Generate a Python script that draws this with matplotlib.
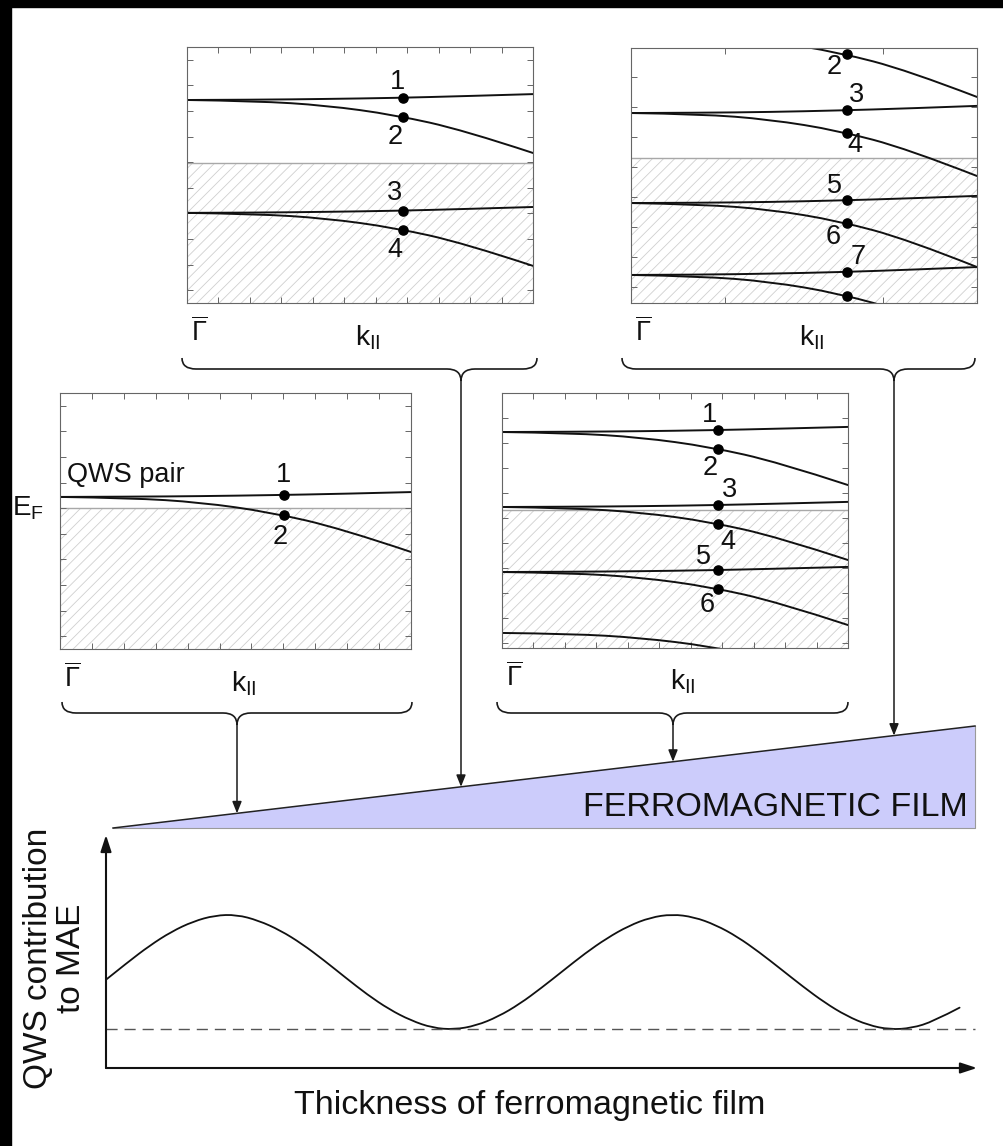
import numpy as np
import matplotlib
matplotlib.use("Agg")
import matplotlib.pyplot as plt
from matplotlib.path import Path
from matplotlib.patches import PathPatch, Polygon, Rectangle
from matplotlib.transforms import blended_transform_factory

plt.rcParams["font.family"] = ["Liberation Sans", "DejaVu Sans"]
plt.rcParams["mathtext.fontset"] = "custom"
plt.rcParams["mathtext.rm"] = "Liberation Sans"
plt.rcParams["mathtext.it"] = "Liberation Sans:italic"
plt.rcParams["mathtext.bf"] = "Liberation Sans:bold"
plt.rcParams["mathtext.sf"] = "Liberation Sans"
plt.rcParams["hatch.linewidth"] = 0.6

# ---------------------------------------------------------------- data
# k grid (fraction of the way from Gamma-bar to the panel edge)
K = [0.0, 0.2, 0.4, 0.6, 0.8, 1.0]

# film 1 (thinnest): one QWS pair straddling E_F
F1_EF = 5.51
F1_BANDS = [
    [5.94, 5.95, 5.97, 6.01, 6.06, 6.13],
    [5.94, 5.90, 5.73, 5.34, 4.71, 3.79],
]
F1_DOT_K = 0.638
F1_DOT_E = [6.01, 5.22]
F1_DOT_LABELS = ["1", "2"]

# film 2
F2_EF = 5.47
F2_BANDS = [
    [7.93, 7.94, 7.97, 8.01, 8.08, 8.16],
    [7.93, 7.89, 7.72, 7.35, 6.75, 5.86],
    [3.52, 3.53, 3.56, 3.60, 3.67, 3.75],
    [3.52, 3.48, 3.31, 2.94, 2.34, 1.45],
]
F2_DOT_K = 0.624
F2_DOT_E = [8.02, 7.28, 3.61, 2.87]
F2_DOT_LABELS = ["1", "2", "3", "4"]

# film 3
F3_EF = 5.41
F3_BANDS = [
    [8.47, 8.48, 8.50, 8.54, 8.60, 8.67],
    [8.47, 8.43, 8.26, 7.89, 7.28, 6.39],
    [5.53, 5.54, 5.56, 5.60, 5.66, 5.73],
    [5.53, 5.49, 5.32, 4.95, 4.34, 3.45],
    [2.98, 2.99, 3.01, 3.05, 3.11, 3.18],
    [2.98, 2.94, 2.77, 2.40, 1.79, 0.90],
    [0.59, 0.56, 0.40, 0.07, -0.48, -1.28],
]
F3_DOT_K = 0.624
F3_DOT_E = [8.55, 7.82, 5.61, 4.88, 3.06, 2.33]
F3_DOT_LABELS = ["1", "2", "3", "4", "5", "6"]

# film 4 (thickest)
F4_EF = 5.69
F4_BANDS = [
    [10.51, 10.47, 10.27, 9.83, 9.12, 8.08],
    [7.45, 7.46, 7.49, 7.55, 7.63, 7.73],
    [7.45, 7.41, 7.20, 6.76, 6.04, 4.98],
    [3.92, 3.93, 3.96, 4.02, 4.10, 4.20],
    [3.92, 3.87, 3.67, 3.22, 2.49, 1.41],
    [1.10, 1.11, 1.15, 1.21, 1.30, 1.41],
    [1.10, 1.05, 0.84, 0.38, -0.37, -1.48],
]
F4_DOT_K = 0.624
F4_DOT_E = [9.75, 7.56, 6.67, 4.03, 3.13, 1.22, 0.29]
F4_DOT_LABELS = ["2", "3", "4", "5", "6", "7", ""]

# QWS contribution to the MAE versus film thickness
THICKNESS = [0.00, 0.25, 0.50, 0.75, 1.00, 1.25, 1.50, 1.75, 2.00, 2.25,
             2.50, 2.75, 3.00, 3.25, 3.50, 3.75, 4.00, 4.25, 4.50, 4.75,
             5.00, 5.25, 5.50, 5.75, 6.00, 6.25, 6.50, 6.75, 7.00, 7.25,
             7.50, 7.75, 8.00, 8.25, 8.50, 8.75, 9.00, 9.25, 9.50, 9.80]
MAE = [3.79, 4.54, 5.25, 5.85, 6.29, 6.55, 6.58, 6.33, 5.91, 5.33,
       4.63, 3.88, 3.15, 2.52, 2.04, 1.72, 1.65, 1.82, 2.20, 2.75,
       3.44, 4.18, 4.92, 5.57, 6.10, 6.46, 6.60, 6.48, 6.14, 5.63,
       4.97, 4.24, 3.50, 2.81, 2.24, 1.84, 1.65, 1.71, 2.00, 2.59]
MAE_BASELINE = 1.67

# ---------------------------------------------------------------- layout
W, H = 1004, 1146
fig = plt.figure(figsize=(W / 100, H / 100), dpi=100)
fig.patch.set_facecolor("white")


def rect(x0, y0, x1, y1):
    return [x0 / W, 1 - y1 / H, (x1 - x0) / W, (y1 - y0) / H]


def smooth_curve(ax, xs, ys, **kw):
    """Draw the sampled points as a smooth quadratic B-spline path."""
    pts = np.column_stack([xs, ys]).astype(float)
    n = len(pts)
    verts = [pts[0]]
    codes = [Path.MOVETO]
    for i in range(1, n - 1):
        end = pts[i + 1] if i == n - 2 else (pts[i] + pts[i + 1]) / 2
        verts += [pts[i], end]
        codes += [Path.CURVE3, Path.CURVE3]
    patch = PathPatch(Path(verts, codes), facecolor="none",
                      capstyle="round", **kw)
    ax.add_patch(patch)
    return patch


# overlay in pixel units for braces, arrows, wedge and labels
ov = fig.add_axes([0, 0, 1, 1])
ov.set_xlim(0, W)
ov.set_ylim(H, 0)
ov.axis("off")

ov.add_patch(Rectangle((0, 0), 11, H, color="black", zorder=5))
ov.add_patch(Rectangle((0, 0), W, 7, color="black", zorder=5))

WEDGE = [(113, 828), (975, 726), (975, 828)]
ov.add_patch(Polygon(WEDGE, closed=True, facecolor="#ccccfb",
                     edgecolor="none", zorder=1))
ov.plot([WEDGE[0][0], WEDGE[2][0], WEDGE[1][0]],
        [WEDGE[0][1], WEDGE[2][1], WEDGE[1][1]],
        color="#9a9a9a", lw=0.8, zorder=2)
ov.plot([WEDGE[0][0], WEDGE[1][0]], [WEDGE[0][1], WEDGE[1][1]],
        color="#222222", lw=1.1, zorder=2)
ov.text(968, 808, "FERROMAGNETIC FILM", fontsize=24.5, ha="right",
        va="center", color="#111111", zorder=3)


def wedge_top(x):
    return np.interp(x, [WEDGE[0][0], WEDGE[1][0]], [WEDGE[0][1], WEDGE[1][1]])


def brace(xl, xr, xt, y0, y1, y2, r=14):
    verts = [(xl, y0), (xl, y1), (xl + r, y1),
             (xt - r, y1), (xt, y1), (xt, y2),
             (xt, y1), (xt + r, y1),
             (xr - r, y1), (xr, y1), (xr, y0)]
    codes = [Path.MOVETO, Path.CURVE3, Path.CURVE3,
             Path.LINETO, Path.CURVE3, Path.CURVE3,
             Path.CURVE3, Path.CURVE3,
             Path.LINETO, Path.CURVE3, Path.CURVE3]
    ov.add_patch(PathPatch(Path(verts, codes), facecolor="none",
                           edgecolor="#1a1a1a", lw=1.2, zorder=3))
    ov.annotate("", xy=(xt, wedge_top(xt)), xytext=(xt, y2),
                arrowprops=dict(arrowstyle="-|>,head_length=0.5,head_width=0.2",
                                color="#1a1a1a", lw=1.1, mutation_scale=14,
                                shrinkA=0, shrinkB=0), zorder=4)


PANELS = [
    dict(box=(60, 393, 411, 649), ef=F1_EF, bands=F1_BANDS, dk=F1_DOT_K,
         de=F1_DOT_E, labels=F1_DOT_LABELS,
         lpos=[(0.638, 6.80), (0.627, 4.38)],
         xt=np.linspace(0, 1, 12), yt=np.arange(0.5, 10, 1.0),
         brace=(62, 412, 237, 702, 713, 725)),
    dict(box=(187, 47, 533, 303), ef=F2_EF, bands=F2_BANDS, dk=F2_DOT_K,
         de=F2_DOT_E, labels=F2_DOT_LABELS,
         lpos=[(0.607, 8.63), (0.601, 6.48), (0.601, 4.30), (0.601, 2.07)],
         xt=np.linspace(0, 1, 12), yt=np.arange(0.5, 10, 1.0),
         brace=(182, 537, 461, 358, 369, 381)),
    dict(box=(502, 393, 848, 648), ef=F3_EF, bands=F3_BANDS, dk=F3_DOT_K,
         de=F3_DOT_E, labels=F3_DOT_LABELS,
         lpos=[(0.601, 9.14), (0.601, 7.06), (0.659, 6.20), (0.653, 4.16),
               (0.581, 3.57), (0.592, 1.69)],
         xt=np.linspace(0, 1, 12), yt=np.arange(0.2, 10, 0.98),
         brace=(497, 848, 673, 702, 713, 725)),
    dict(box=(631, 48, 977, 303), ef=F4_EF, bands=F4_BANDS, dk=F4_DOT_K,
         de=F4_DOT_E, labels=F4_DOT_LABELS,
         lpos=[(0.587, 9.25), (0.653, 8.16), (0.647, 6.20), (0.587, 4.59),
               (0.584, 2.59), (0.656, 1.80)],
         xt=[0.272, 0.728], yt=np.arange(0.63, 10, 1.175),
         brace=(622, 975, 894, 358, 369, 381)),
]

for i, p in enumerate(PANELS):
    x0, y0, x1, y1 = p["box"]
    ax = fig.add_axes(rect(x0, y0, x1, y1))
    ax.set_xlim(0, 1)
    ax.set_ylim(0, 10)
    ax.axhspan(0, p["ef"], facecolor="white", edgecolor="#cfcfcf",
               hatch="///", lw=0, zorder=0)
    ax.axhline(p["ef"], color="#a8a8a8", lw=1.0, zorder=1)
    for band in p["bands"]:
        smooth_curve(ax, K, band, edgecolor="#111111", lw=1.4, zorder=2)
    ax.plot([p["dk"]] * len(p["de"]), p["de"], "o", color="black",
            ms=6.6, zorder=3)
    for lab, (lk, le) in zip(p["labels"], p["lpos"]):
        ax.text(lk, le, lab, fontsize=19.5, ha="center", va="center",
                color="#111111", zorder=4)
    ax.set_xticks(p["xt"])
    ax.set_yticks(p["yt"])
    ax.set_xticklabels([])
    ax.set_yticklabels([])
    ax.tick_params(direction="in", length=4, width=0.7, color="#666666",
                   top=True, right=True)
    for s in ax.spines.values():
        s.set_color("#666666")
        s.set_linewidth(0.8)
    if i == 0:
        ax.text(0.02, 6.80, "QWS pair", fontsize=19.5, ha="left",
                va="center", color="#111111")
        tr = blended_transform_factory(ax.transAxes, ax.transData)
        ax.text(-0.137, p["ef"], r"E$_\mathregular{F}$", fontsize=20,
                ha="left", va="center", transform=tr, clip_on=False,
                color="#111111")
    ov.text(x0 + 12, y1 + 38, r"$\overline{\Gamma}$", fontsize=19.5,
            ha="center", va="baseline", color="#111111")
    ov.text((x0 + x1) / 2 + 8, y1 + 42, r"k$_\mathregular{II}$", fontsize=20.5,
            ha="center", va="baseline", color="#111111")
    brace(*p["brace"])

# bottom: QWS contribution versus thickness
bx = fig.add_axes(rect(106, 835, 977, 1068))
bx.set_xlim(0, 10)
bx.set_ylim(0, 10)
bx.axis("off")
smooth_curve(bx, THICKNESS, MAE, edgecolor="#111111", lw=1.3)
bx.plot([0, 9.98], [MAE_BASELINE, MAE_BASELINE], color="#555555", lw=1.0,
        dashes=(8, 5))
arrow_kw = dict(arrowstyle="-|>,head_length=0.55,head_width=0.18",
                color="#111111", lw=1.5, mutation_scale=18,
                shrinkA=0, shrinkB=0)
bx.annotate("", xy=(1, 0), xytext=(0, 0), xycoords="axes fraction",
            textcoords="axes fraction", arrowprops=arrow_kw)
bx.annotate("", xy=(0, 1), xytext=(0, 0), xycoords="axes fraction",
            textcoords="axes fraction", arrowprops=arrow_kw)

ov.text(55, 958, "QWS contribution\nto MAE", fontsize=24, rotation=90,
        ha="center", va="center", linespacing=1.1, multialignment="center",
        color="#111111")
ov.text(530, 1114, "Thickness of ferromagnetic film", fontsize=24.5,
        ha="center", va="baseline", color="#111111")

fig.savefig("out.png", dpi=100, facecolor="white")
